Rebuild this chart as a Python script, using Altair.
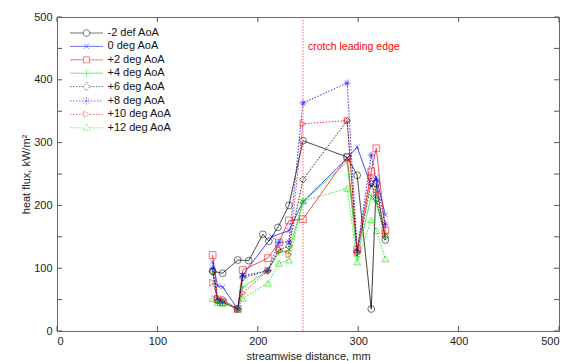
import altair as alt
import pandas as pd

series_names = ["-2 def AoA", "0 deg AoA", "+2 deg AoA", "+4 deg AoA",
                "+6 deg AoA", "+8 deg AoA", "+10 deg AoA", "+12 deg AoA"]

x_m2 = [155, 165, 180, 191, 205, 211, 220, 231, 245, 289, 299, 313, 318, 327]
y_m2 = [95, 92, 113, 112, 154, 143, 165, 200, 303, 277, 248, 35, 235, 145]

x_0 = [155, 160, 165, 180, 185, 214, 231, 245, 289, 299, 313, 318, 327]
y_0 = [110, 72, 70, 35, 89, 150, 160, 206, 275, 293, 230, 245, 185]

x_common = [155, 160, 165, 180, 185, 210, 221, 231, 245, 289, 299, 313, 318, 327]
y_p2 = [121, 50, 46, 35, 97, 116, 141, 176, 178, 277, 130, 254, 291, 160]
y_p4 = [95, 45, 47, 35, 70, 96, 125, 128, 205, 270, 118, 215, 205, 150]
y_p6 = [95, 48, 50, 35, 85, 96, 129, 135, 241, 335, 125, 235, 210, 150]
y_p8 = [100, 50, 46, 35, 88, 96, 141, 142, 363, 395, 128, 280, 240, 170]
y_p10 = [77, 52, 47, 35, 60, 96, 130, 122, 330, 335, 125, 245, 220, 155]
y_p12 = [52, 45, 44, 35, 52, 76, 108, 113, 207, 227, 110, 177, 160, 115]

crotch_x = [245]
x_ticks = [0, 100, 200, 300, 400, 500]
y_ticks = [0, 50, 100, 150, 200, 250, 300, 350, 400, 450, 500]

colors = ["#000000", "#0000ff", "#ff0000", "#00e000", "#000000", "#0000ff", "#ff0000", "#00e000"]
dashes = [[1, 0], [1, 0], [1, 0], [1, 0], [1.5, 1.5], [1.5, 1.5], [1.5, 1.5], [1.5, 1.5]]

plot_markers = [
    "circle",
    "M-0.7,-0.7L0.7,0.7M-0.7,0.7L0.7,-0.7",
    "square",
    "M-1,0H1M0,-1V1",
    "diamond",
    "M-1,0H1M0,-1V1M-0.7,-0.7L0.7,0.7M-0.7,0.7L0.7,-0.7",
    "triangle-right",
    "triangle-up",
]
legend_markers = [
    "M-3.3,0H-0.66M0.66,0H3.3M0.66,0A0.66,0.66 0 1,1 -0.66,0A0.66,0.66 0 1,1 0.66,0",
    "M-3.3,0H3.3M-0.47,-0.47L0.47,0.47M-0.47,0.47L0.47,-0.47",
    "M-3.3,0H-0.6M0.6,0H3.3M-0.6,-0.6H0.6V0.6H-0.6Z",
    "M-3.3,0H3.3M0,-0.7V0.7",
    "M-3.3,0H-0.66M0.66,0H3.3M0,-0.85L0.66,0L0,0.85L-0.66,0Z",
    "M-3.3,0H3.3M0,-0.7V0.7M-0.5,-0.5L0.5,0.5M-0.5,0.5L0.5,-0.5",
    "M-3.3,0H-0.55M0.66,0H3.3M-0.55,-0.66L0.66,0L-0.55,0.66Z",
    "M-3.3,0H-0.66M0.66,0H3.3M0,-0.75L0.66,0.5H-0.66Z",
]

rows = []
for name, xs, ys in [
    (series_names[0], x_m2, y_m2),
    (series_names[1], x_0, y_0),
    (series_names[2], x_common, y_p2),
    (series_names[3], x_common, y_p4),
    (series_names[4], x_common, y_p6),
    (series_names[5], x_common, y_p8),
    (series_names[6], x_common, y_p10),
    (series_names[7], x_common, y_p12),
]:
    for i, (a, b) in enumerate(zip(xs, ys)):
        rows.append({"series": name, "x": a, "y": b, "order": i})
df = pd.DataFrame(rows)

W, H = 502, 314
FONT = "Liberation Sans"

xsc = alt.Scale(domain=[0, 500], nice=False, zero=False)
ysc = alt.Scale(domain=[0, 500], nice=False, zero=False)

X = alt.X("x:Q", scale=xsc,
          axis=alt.Axis(values=x_ticks, title="streamwise distance, mm", grid=False,
                        ticks=False, domain=False, labelPadding=4, labelFontSize=11,
                        titleFontSize=11, titleFontWeight="normal", titleY=25,
                        titleBaseline="middle", labelColor="#222", titleColor="#222",
                        labelFont=FONT, titleFont=FONT))
Y = alt.Y("y:Q", scale=ysc,
          axis=alt.Axis(values=y_ticks, title="heat flux, kW/m²", grid=False,
                        ticks=False, domain=False, labelPadding=5, labelFontSize=11,
                        titleFontSize=11, titleFontWeight="normal", titleX=-31,
                        titleY=H / 2, titleAlign="center", titleBaseline="middle",
                        titleAngle=270, labelColor="#222", titleColor="#222",
                        labelFont=FONT, titleFont=FONT))
Xp = alt.X("x:Q", scale=xsc)
Yp = alt.Y("y:Q", scale=ysc)

base = alt.Chart(df)

crotch = alt.Chart(pd.DataFrame({"x": crotch_x})).mark_rule(
    color="#ff6060", strokeDash=[1.5, 1.5], strokeWidth=1
).encode(x=Xp)

crotch_text = alt.Chart(pd.DataFrame({"x": [250], "y": [452], "t": ["crotch leading edge"]})).mark_text(
    color="#ff0000", align="left", baseline="middle", fontSize=10.5, font=FONT
).encode(x=Xp, y=Yp, text="t:N")

line_layers = []
point_layers = []
for k, (name, mk) in enumerate(zip(series_names, plot_markers)):
    sub = base.transform_filter(alt.datum.series == name)
    line_layers.append(
        sub.mark_line(strokeWidth=0.8, color=colors[k], strokeDash=dashes[k]).encode(
            x=X if k == 0 else Xp, y=Y if k == 0 else Yp, order="order:Q")
    )
    point_layers.append(
        sub.mark_point(shape=mk, filled=False, size=46, strokeWidth=0.8, color=colors[k]).encode(
            x=Xp, y=Yp)
    )

leg = alt.Legend(title=None, orient="none", legendX=24, legendY=10.5,
                 symbolSize=100, symbolStrokeWidth=0.8,
                 labelFontSize=11, labelFont=FONT, labelColor="#111",
                 rowPadding=1.4, labelOffset=15.5, padding=0)
legend_layer = base.transform_filter("false").mark_point(filled=False, strokeWidth=0.8).encode(
    x=Xp, y=Yp,
    color=alt.Color("series:N", scale=alt.Scale(domain=series_names, range=colors), legend=leg),
    shape=alt.Shape("series:N", scale=alt.Scale(domain=series_names, range=legend_markers), legend=leg),
    strokeDash=alt.StrokeDash("series:N", scale=alt.Scale(domain=series_names, range=dashes), legend=leg),
)

tick_df_x = pd.DataFrame({"v": x_ticks})
tick_df_y = pd.DataFrame({"v": y_ticks})
tk = dict(color="#555", strokeWidth=1)
xt_bottom = alt.Chart(tick_df_x).mark_rule(**tk).encode(
    x=alt.X("v:Q", scale=xsc), y=alt.value(H), y2=alt.value(H - 5))
xt_top = alt.Chart(tick_df_x).mark_rule(**tk).encode(
    x=alt.X("v:Q", scale=xsc), y=alt.value(0), y2=alt.value(5))
yt_left = alt.Chart(tick_df_y).mark_rule(**tk).encode(
    y=alt.Y("v:Q", scale=ysc), x=alt.value(0), x2=alt.value(5))
yt_right = alt.Chart(tick_df_y).mark_rule(**tk).encode(
    y=alt.Y("v:Q", scale=ysc), x=alt.value(W), x2=alt.value(W - 5))

chart = alt.layer(
    *line_layers, xt_bottom, xt_top, yt_left, yt_right, crotch, crotch_text, *point_layers, legend_layer
).properties(
    width=W, height=H,
    autosize=alt.AutoSizeParams(type="none"),
    padding={"left": 57, "top": 17, "right": 20, "bottom": 30},
    background="white",
).configure_view(
    stroke="#666", strokeWidth=1
)

chart.save("out.html", embed_options={"renderer": "svg", "actions": False})
